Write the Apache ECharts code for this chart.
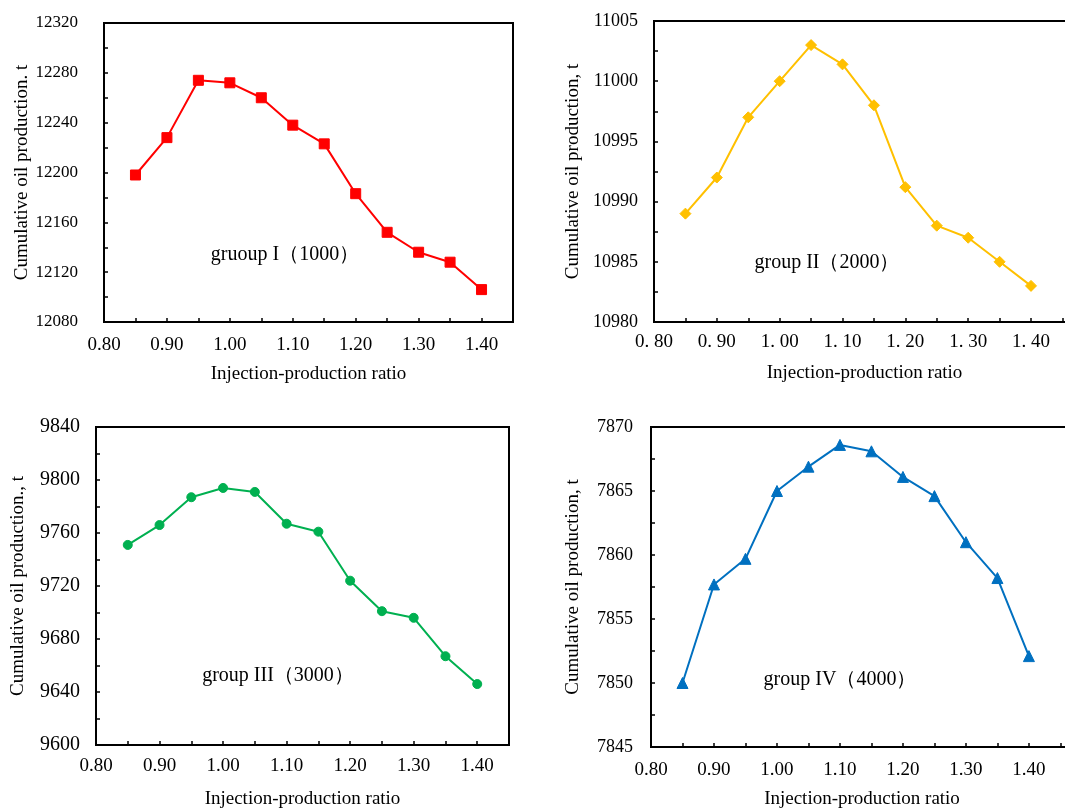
<!DOCTYPE html>
<html>
<head>
<meta charset="utf-8">
<script src="https://cdn.jsdelivr.net/npm/echarts@6/dist/echarts.min.js"></script>
<style>
html,body{margin:0;padding:0;background:#fff;}
#main{width:1065px;height:809px;}
</style>
</head>
<body>
<div id="main"></div>
<script>
const ratios = [0.85, 0.90, 0.95, 1.00, 1.05, 1.10, 1.15, 1.20, 1.25, 1.30, 1.35, 1.40];
const group1 = [12198, 12228, 12274, 12272, 12260, 12238, 12223, 12183, 12152, 12136, 12128, 12106];
const group2 = [10989, 10992, 10997, 11000, 11003, 11001.4, 10998, 10991.2, 10988, 10987, 10985, 10983];
const group3 = [9751, 9766, 9787, 9794, 9791, 9767, 9761, 9724, 9701, 9696, 9667, 9646];
const group4 = [7850, 7857.7, 7859.7, 7865, 7866.9, 7868.6, 7868.1, 7866.1, 7864.6, 7861, 7858.2, 7852.1];
const groupLabels = ['gruoup I（1000）', 'group II（2000）', 'group III（3000）', 'group IV（4000）'];
const yTitles = ['Cumulative oil production. t', 'Cumulative oil production, t', 'Cumulative oil production., t', 'Cumulative oil production, t'];
const xTitle = 'Injection-production ratio';

const FONT = '"Liberation Serif", "Times New Roman", serif';
const chart = echarts.init(document.getElementById('main'), null, {renderer: 'canvas'});

const panels = [
  {data: group1, color: '#FF0000', symbol: 'rect', size: 10, grid: {left: 104, top: 23, width: 409, height: 299},
   xMax: 1.45, yMin: 12080, yMax: 12320, yInt: 40, yFont: 17, yMargin: 26, xMargin: 14, xGap: 43, yGap: 71, dotSpace: false,
   label: [285, 255]},
  {data: group2, color: '#FFC000', symbol: 'diamond', size: 11, grid: {left: 654, top: 21, width: 421, height: 301},
   xMax: 1.47, yMin: 10980, yMax: 11005, yInt: 5, yFont: 18, yMargin: 16, xMargin: 11, xGap: 42, yGap: 71, dotSpace: true,
   label: [827, 263]},
  {data: group3, color: '#00B050', symbol: 'circle', size: 9, grid: {left: 96, top: 427, width: 413, height: 318},
   xMax: 1.45, yMin: 9600, yMax: 9840, yInt: 40, yFont: 20, yMargin: 16, xMargin: 12, xGap: 45, yGap: 68, dotSpace: false,
   label: [278, 676]},
  {data: group4, color: '#0070C0', symbol: 'triangle', size: 11, grid: {left: 651, top: 427, width: 422, height: 320},
   xMax: 1.47, yMin: 7845, yMax: 7870, yInt: 5, yFont: 18, yMargin: 18, xMargin: 14, xGap: 43, yGap: 68, dotSpace: false,
   label: [840, 680]}
];

const grids = [], xAxes = [], yAxes = [], series = [], graphics = [];
panels.forEach((p, i) => {
  grids.push(Object.assign({show: true, borderColor: '#000', borderWidth: 2, backgroundColor: 'transparent',
    outerBoundsMode: 'none', containLabel: false}, p.grid));
  xAxes.push({
    type: 'value', gridIndex: i, min: 0.8, max: p.xMax, interval: 0.05,
    axisLine: {show: true, onZero: false, lineStyle: {color: '#000', width: 2}},
    axisTick: {show: true, inside: true, length: 4, lineStyle: {color: '#000', width: 1.5}},
    splitLine: {show: false},
    axisLabel: {
      color: '#000', fontFamily: FONT, fontSize: 19, margin: p.xMargin, showMaxLabel: false,
      formatter: function (v) {
        const k = Math.round(v * 100);
        if (k % 10 !== 0 || k > 140) return '';
        const s = (k / 100).toFixed(2);
        return p.dotSpace ? s.replace('.', '. ') : s;
      }
    },
    name: xTitle, nameLocation: 'middle', nameGap: p.xGap,
    nameTextStyle: {color: '#000', fontFamily: FONT, fontSize: 19}
  });
  yAxes.push({
    type: 'value', gridIndex: i, min: p.yMin, max: p.yMax, interval: p.yInt,
    axisLine: {show: true, onZero: false, lineStyle: {color: '#000', width: 2}},
    axisTick: {show: true, inside: true, length: 4, lineStyle: {color: '#000', width: 1.5}},
    minorTick: {show: true, splitNumber: 2, length: 4, lineStyle: {color: '#000', width: 1.5}},
    splitLine: {show: false},
    axisLabel: {color: '#000', fontFamily: FONT, fontSize: p.yFont, margin: p.yMargin,
      formatter: function (v) { return String(Math.round(v)); }},
    name: yTitles[i], nameLocation: 'middle', nameGap: p.yGap, nameRotate: 90,
    nameTextStyle: {color: '#000', fontFamily: FONT, fontSize: 19}
  });
  series.push({
    type: 'line', xAxisIndex: i, yAxisIndex: i,
    data: ratios.map((x, j) => [x, p.data[j]]),
    symbol: p.symbol, symbolSize: p.size, showSymbol: true,
    lineStyle: {color: p.color, width: 2},
    itemStyle: {color: p.color, borderColor: p.color},
    animation: false
  });
  graphics.push({
    type: 'text', x: p.label[0], y: p.label[1],
    style: {text: groupLabels[i], fill: '#000', font: '20px ' + FONT, textAlign: 'center', textVerticalAlign: 'middle'}
  });
});

chart.setOption({
  animation: false,
  backgroundColor: '#fff',
  grid: grids, xAxis: xAxes, yAxis: yAxes, series: series, graphic: graphics
});
</script>
</body>
</html>
